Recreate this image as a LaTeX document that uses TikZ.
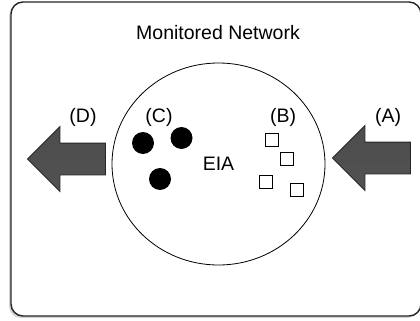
\documentclass[tikz,border=0pt]{standalone}
\usepackage{fontspec}
\setmainfont{Liberation Sans}
\usetikzlibrary{shapes.geometric,shapes.arrows,shadows}

\tikzstyle{frame} = [draw=black!85,line width=1.4pt,rounded corners=12pt,fill=white,
  drop shadow={shadow xshift=-2pt,shadow yshift=-2pt,opacity=0.35}]
\tikzstyle{zone} = [draw,ellipse,line width=0.8pt,minimum width=213pt,minimum height=202pt,inner sep=0pt]
\tikzstyle{label} = [font=\fontsize{19.5}{22}\selectfont,inner sep=0pt]
\tikzstyle{bigarrow} = [draw=black!85,line width=0.8pt,single arrow,shape border rotate=180,
  minimum height=78pt,minimum width=64pt,single arrow head extend=16.5pt,inner sep=15.5pt,
  top color=black!70,middle color=black!35,bottom color=black!68]
\tikzstyle{dot} = [circle,fill=black,minimum size=22pt,inner sep=0pt]
\tikzstyle{pkt} = [draw,line width=0.8pt,minimum size=13pt,inner sep=0pt]

\begin{document}
\begin{tikzpicture}[x=1pt,y=-1pt]
		\useasboundingbox (0,0) rectangle (420,321);
		\path[frame] (11,2) rectangle (421,316);
		\node[label] (title) at (218,33) {Monitored Network};
		\node[zone,label] (eia) at (218.5,164) {EIA};
		\node[bigarrow] (d) at (74.5,159) {};
		\node[bigarrow] (a) at (379.5,158) {};
		\node[label] (ld) at (83,117) {(D)};
		\node[label] (lc) at (159,117) {(C)};
		\node[label] (lb) at (283,117) {(B)};
		\node[label] (la) at (388,117) {(A)};
		\node[dot] (c1) at (143,143) {};
		\node[dot] (c2) at (181.5,138) {};
		\node[dot] (c3) at (160,179) {};
		\node[pkt] (b1) at (272,140) {};
		\node[pkt] (b2) at (287,159) {};
		\node[pkt] (b3) at (266,182) {};
		\node[pkt] (b4) at (297,190) {};
		\end{tikzpicture}
\end{document}
